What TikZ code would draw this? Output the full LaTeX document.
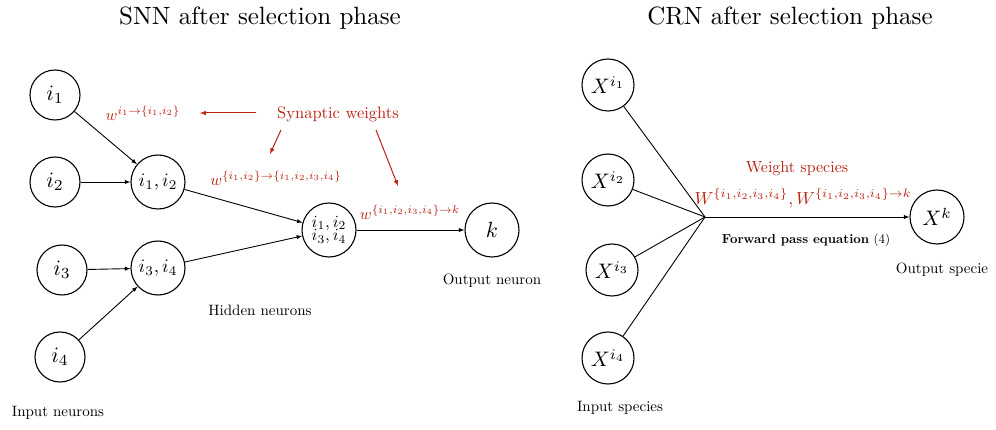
\documentclass[tikz,border=0pt]{standalone}
\usepackage{amsmath}
\usepackage{graphicx}
\definecolor{wred}{RGB}{185,35,20}
\newcommand{\sz}[2]{\scalebox{#1}{#2}}
\begin{document}
\begin{tikzpicture}[x=1pt,y=-1pt,
 nd/.style={circle,draw,line width=1.1pt,minimum size=#1,inner sep=0pt},
 nd/.default=50pt,
 ed/.style={line width=0.9pt,-latex},
 ln/.style={line width=0.9pt},
 red/.style={text=wred},
 rarr/.style={draw=wred,line width=1pt,-latex}]
\useasboundingbox (0,0) rectangle (996,430);
\node (t1) at (260,18) {\sz{2.5}{SNN after selection phase}};
\node (t2) at (790,18) {\sz{2.5}{CRN after selection phase}};
% SNN
\node[nd] (a1) at (55,95) {\sz{2.2}{$i_1$}};
\node[nd] (a2) at (55,182) {\sz{2.2}{$i_2$}};
\node[nd] (a3) at (62,270) {\sz{2.2}{$i_3$}};
\node[nd] (a4) at (60,357) {\sz{2.2}{$i_4$}};
\node[nd=54pt] (h1) at (158,182) {\sz{1.9}{$i_1,i_2$}};
\node[nd=54pt] (h2) at (158,268) {\sz{1.9}{$i_3,i_4$}};
\node[nd=54pt] (m) at (329,230) {\sz{1.7}{$\begin{array}{@{}c@{}}i_1,i_2\\[-4pt] i_3,i_4\end{array}$}};
\node[nd=54pt] (k) at (492,230) {\sz{2.2}{$k$}};
\draw[ed] (a1) -- (h1);
\draw[ed] (a2) -- (h1);
\draw[ed] (a3) -- (h2);
\draw[ed] (a4) -- (h2);
\draw[ed] (h1) -- (m);
\draw[ed] (h2) -- (m);
\draw[ed] (m) -- (k);
\node (l1) at (58,413) {\sz{1.5}{Input neurons}};
\node (l2) at (260,310) {\sz{1.5}{Hidden neurons}};
\node (l3) at (492,281) {\sz{1.5}{Output neuron}};
\node[red] (sw) at (338,114) {\sz{1.65}{Synaptic weights}};
\node[red] (w1) at (143,113) {\sz{1.6}{$w^{i_1\to\{i_1,i_2\}}$}};
\node[red] (w2) at (276,178) {\sz{1.6}{$w^{\{i_1,i_2\}\to\{i_1,i_2,i_3,i_4\}}$}};
\node[red] (w3) at (410,212) {\sz{1.6}{$w^{\{i_1,i_2,i_3,i_4\}\to k}$}};
\coordinate (s1) at (256,113); \coordinate (e1) at (200,113);
\coordinate (s2) at (281,130); \coordinate (e2) at (270,154);
\coordinate (s3) at (376,130); \coordinate (e3) at (398,186);
\draw[rarr] (s1) -- (e1);
\draw[rarr] (s2) -- (e2);
\draw[rarr] (s3) -- (e3);
% CRN
\node[nd=52pt] (x1) at (608,85) {\sz{2.1}{$X^{i_1}$}};
\node[nd=52pt] (x2) at (608,180) {\sz{2.1}{$X^{i_2}$}};
\node[nd=52pt] (x3) at (612,270) {\sz{2.1}{$X^{i_3}$}};
\node[nd=52pt] (x4) at (608,358) {\sz{2.1}{$X^{i_4}$}};
\node[nd=54pt] (xk) at (937,217) {\sz{2.1}{$X^k$}};
\coordinate (hub) at (705,217);
\foreach \n in {x1,x2,x3,x4} \draw[ln] (\n) -- (hub);
\draw[ed] (hub) -- (xk);
\node (l4) at (620,408) {\sz{1.5}{Input species}};
\node (l5) at (942,270) {\sz{1.5}{Output specie}};
\node[red] (ws) at (797,169) {\sz{1.6}{Weight species}};
\node[red] (wx) at (803,198) {\sz{1.75}{$W^{\{i_1,i_2,i_3,i_4\}},W^{\{i_1,i_2,i_3,i_4\}\to k}$}};
\node (fp) at (806,240) {\sz{1.3}{\textbf{Forward pass equation} (4)}};
\end{tikzpicture}
\end{document}
